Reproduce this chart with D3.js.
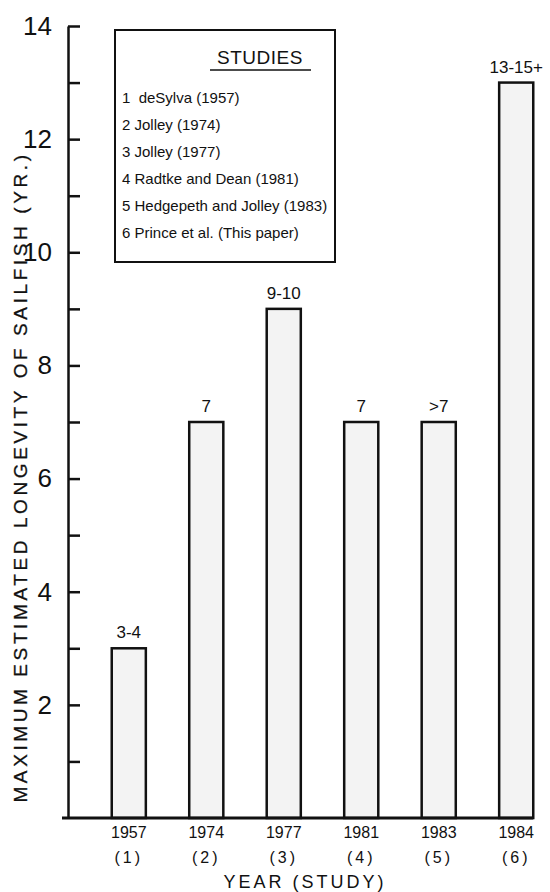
<!DOCTYPE html>
<html>
<head>
<meta charset="utf-8">
<script src="https://cdn.jsdelivr.net/npm/d3@7"></script>
<style>
  body { margin: 0; background: #fff; }
  text { font-family: "Liberation Sans", Arial, sans-serif; fill: #111; }
</style>
</head>
<body>
<div id="chart"></div>
<script>
// values
let years = ["1957", "1974", "1977", "1981", "1983", "1984"]
let studyNums = ["(1)", "(2)", "(3)", "(4)", "(5)", "(6)"]
let longevity = [3, 7, 9, 7, 7, 13]
let barLabels = ["3-4", "7", "9-10", "7", ">7", "13-15+"]
let studies = [
    "1  deSylva (1957)",
    "2 Jolley (1974)",
    "3 Jolley (1977)",
    "4 Radtke and Dean (1981)",
    "5 Hedgepeth and Jolley (1983)",
    "6 Prince et al. (This paper)"
]
let yTicks = [1, 2, 3, 4, 5, 6, 7, 8, 9, 10, 11, 12, 13, 14]

let width = 550
let height = 892

const svg = d3.select("#chart")
            .append("svg")
            .attr("width", width)
            .attr("height", height)

// scales
let y = d3.scaleLinear()
          .domain([0, 14])
          .range([818, 26])

let x = d3.scaleBand()
          .domain(years)
          .range([73, 572])
          .paddingInner(0.56)
          .paddingOuter(0.5)

// bars
svg.append("g")
   .selectAll("rect")
   .data(longevity)
   .enter()
   .append("rect")
   .attr("x", (d, i) => x(years[i]))
   .attr("y", d => y(d))
   .attr("width", x.bandwidth())
   .attr("height", d => y(0) - y(d))
   .attr("fill", "#f3f3f3")
   .attr("stroke", "#111")
   .attr("stroke-width", 2.5)

// labels above bars
svg.append("g")
   .selectAll("text")
   .data(barLabels)
   .enter()
   .append("text")
   .attr("x", (d, i) => x(years[i]) + x.bandwidth() / 2)
   .attr("y", (d, i) => y(longevity[i]) - 10)
   .attr("text-anchor", "middle")
   .style("font-size", "17px")
   .text(d => d)

// y axis, ticks pointing into the plot
const yAxis = d3.axisLeft(y)
                .tickValues(yTicks)
                .tickSizeInner(-12)
                .tickSizeOuter(0)
                .tickPadding(16)
                .tickFormat(d => d % 2 == 0 ? d : "")

const yg = svg.append("g")
              .attr("transform", "translate(68,0)")
              .call(yAxis)
yg.select(".domain").attr("stroke", "#111").attr("stroke-width", 2.5)
yg.selectAll(".tick line").attr("stroke", "#111").attr("stroke-width", 2.5)
yg.selectAll(".tick text")
  .style("font-size", "26px")
  .style("font-family", "'Liberation Sans', Arial, sans-serif")
  .attr("fill", "#111")

// baseline
svg.append("line")
   .attr("x1", 62)
   .attr("x2", x(years[5]) + x.bandwidth())
   .attr("y1", y(0))
   .attr("y2", y(0))
   .attr("stroke", "#111")
   .attr("stroke-width", 3)

// x labels
const xAxis = d3.axisBottom(x).tickSize(0).tickPadding(9)
const xg = svg.append("g")
              .attr("transform", `translate(0,${y(0)})`)
              .call(xAxis)
xg.select(".domain").remove()
xg.selectAll(".tick text")
  .style("font-size", "16px")
  .style("font-family", "'Liberation Sans', Arial, sans-serif")
  .attr("fill", "#111")
xg.selectAll(".tick")
  .append("text")
  .attr("y", 45)
  .attr("fill", "#111")
  .style("font-size", "16px")
  .style("font-family", "'Liberation Sans', Arial, sans-serif")
  .style("letter-spacing", "3px")
  .text((d, i) => studyNums[i])

// axis titles
svg.append("text")
   .attr("x", 305)
   .attr("y", 888)
   .attr("text-anchor", "middle")
   .style("font-size", "18px")
   .style("letter-spacing", "3px")
   .text("YEAR (STUDY)")

svg.append("text")
   .attr("transform", "translate(27,477) rotate(-90)")
   .attr("text-anchor", "middle")
   .style("font-size", "19px")
   .style("letter-spacing", "3.6px")
   .attr("stroke", "#111")
   .attr("stroke-width", 0.3)
   .text("MAXIMUM ESTIMATED LONGEVITY OF SAILFISH (YR.)")

// legend box
let legend = svg.append("g")
                .attr("id", "legend")

legend.append("rect")
      .attr("x", 115)
      .attr("y", 30)
      .attr("width", 220)
      .attr("height", 232)
      .attr("fill", "none")
      .attr("stroke", "#111")
      .attr("stroke-width", 2)

legend.append("text")
      .attr("x", 260)
      .attr("y", 64)
      .attr("text-anchor", "middle")
      .style("font-size", "19px")
      .style("letter-spacing", "0.5px")
      .text("STUDIES")

legend.append("line")
      .attr("x1", 210)
      .attr("x2", 311)
      .attr("y1", 70)
      .attr("y2", 70)
      .attr("stroke", "#111")
      .attr("stroke-width", 1.5)

legend.selectAll(".study")
      .data(studies)
      .enter()
      .append("text")
      .attr("class", "study")
      .attr("x", 122)
      .attr("y", (d, i) => 103 + i * 27)
      .style("font-size", "15px")
      .style("white-space", "pre")
      .text(d => d)
</script>
</body>
</html>
